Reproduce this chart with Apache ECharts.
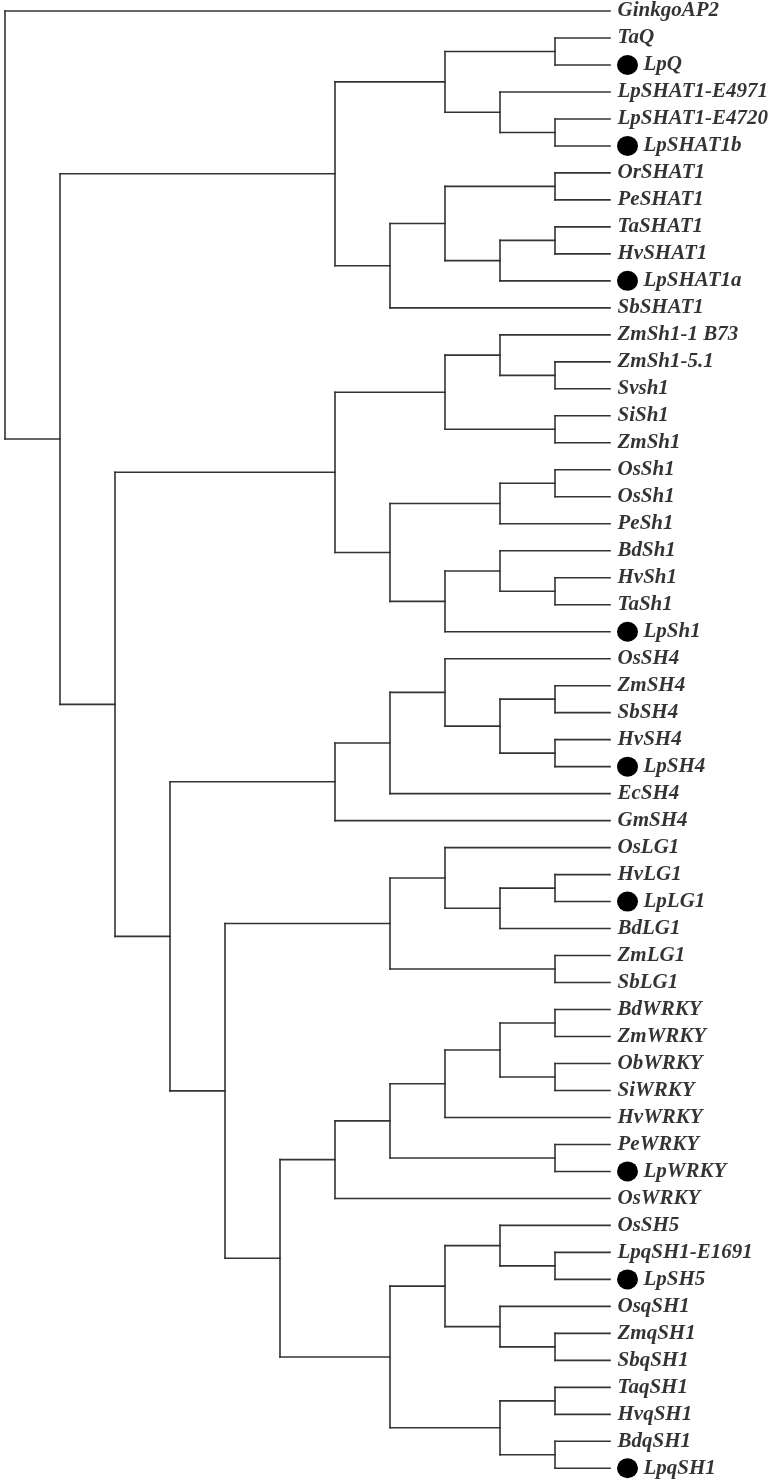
<!DOCTYPE html>
<html>
<head>
<meta charset="utf-8">
<script src="https://cdn.jsdelivr.net/npm/echarts@6/dist/echarts.min.js"></script>
<style>
html,body{margin:0;padding:0;background:#fff;}
#chart{width:776px;height:1480px;}
</style>
</head>
<body>
<div id="chart"></div>
<script>
// Leaf labels, top to bottom (their index is their row)
const leafNames = [
  'GinkgoAP2','TaQ','LpQ','LpSHAT1-E4971','LpSHAT1-E4720','LpSHAT1b',
  'OrSHAT1','PeSHAT1','TaSHAT1','HvSHAT1','LpSHAT1a','SbSHAT1',
  'ZmSh1-1 B73','ZmSh1-5.1','Svsh1','SiSh1','ZmSh1','OsSh1','OsSh1','PeSh1',
  'BdSh1','HvSh1','TaSh1','LpSh1',
  'OsSH4','ZmSH4','SbSH4','HvSH4','LpSH4','EcSH4','GmSH4',
  'OsLG1','HvLG1','LpLG1','BdLG1','ZmLG1','SbLG1',
  'BdWRKY','ZmWRKY','ObWRKY','SiWRKY','HvWRKY','PeWRKY','LpWRKY','OsWRKY',
  'OsSH5','LpqSH1-E1691','LpSH5','OsqSH1','ZmqSH1','SbqSH1',
  'TaqSH1','HvqSH1','BdqSH1','LpqSH1'
];
// Leaves marked with a black dot (row indices)
const markedLeaves = [2, 5, 10, 23, 28, 33, 43, 47, 54];

// Tree topology (Newick, leaves given by row index)
const cladeSHAT1 = '(((1,2),(3,(4,5))),(((6,7),((8,9),10)),11))';
const cladeSh1   = '(((12,(13,14)),(15,16)),(((17,18),19),((20,(21,22)),23)))';
const cladeSH4   = '(((24,((25,26),(27,28))),29),30)';
const cladeLG1   = '((31,((32,33),34)),(35,36))';
const cladeWRKY  = '(((((37,38),(39,40)),41),(42,43)),44)';
const cladeQSH1  = '(((45,(46,47)),(48,(49,50))),((51,52),(53,54)))';
const topology = '(0,(' + cladeSHAT1 + ',(' + cladeSh1 + ',(' + cladeSH4 + ',(' + cladeLG1 + ',(' + cladeWRKY + ',' + cladeQSH1 + '))))))';

function parseNewick(s) {
  s = s.replace(/\s+/g, '');
  let i = 0;
  function node() {
    if (s[i] === '(') {
      i++;
      const ch = [node()];
      while (s[i] === ',') { i++; ch.push(node()); }
      i++; // ')'
      return { children: ch };
    }
    const j = i;
    while (i < s.length && /[0-9]/.test(s[i])) i++;
    return { leaf: +s.slice(j, i) };
  }
  return node();
}
const root = parseNewick(topology);
function height(n) {
  n.h = n.children ? 1 + Math.max(...n.children.map(height)) : 0;
  return n.h;
}
const H = height(root);
function place(n) {
  n.x = H - n.h;
  if (n.children) {
    n.children.forEach(place);
    n.y = (n.children[0].y + n.children[n.children.length - 1].y) / 2;
  } else {
    n.y = n.leaf;
  }
}
place(root);
const segments = [];
function collect(n) {
  if (!n.children) return;
  const f = n.children[0], l = n.children[n.children.length - 1];
  segments.push([n.x, f.y, n.x, l.y]);
  n.children.forEach(c => { segments.push([n.x, c.y, c.x, c.y]); collect(c); });
}
collect(root);

const chart = echarts.init(document.getElementById('chart'), null, { renderer: 'canvas' });
const labelFont = {
  color: '#000', fontFamily: 'Liberation Serif', fontStyle: 'italic',
  fontWeight: 'bold', fontSize: 21
};
chart.setOption({
  animation: false,
  backgroundColor: '#fff',
  grid: { left: 5, right: 166, top: 11, bottom: 11.7, containLabel: false },
  xAxis: { type: 'value', min: 0, max: H, show: false },
  yAxis: { type: 'value', min: 0, max: leafNames.length - 1, inverse: true, show: false },
  series: [
    {
      type: 'custom',
      data: segments,
      encode: { x: [0, 2], y: [1, 3] },
      silent: true,
      renderItem: function (params, api) {
        const p1 = api.coord([api.value(0), api.value(1)]);
        const p2 = api.coord([api.value(2), api.value(3)]);
        return {
          type: 'line',
          shape: { x1: p1[0], y1: p1[1], x2: p2[0], y2: p2[1] },
          style: { stroke: '#333333', lineWidth: 1.6, lineCap: 'square' }
        };
      }
    },
    {
      type: 'scatter',
      symbolSize: 1,
      itemStyle: { color: 'rgba(0,0,0,0)' },
      silent: true,
      data: leafNames.map((n, i) => ({
        value: [H, i], name: n,
        label: { distance: markedLeaves.includes(i) ? 33 : 7 }
      })),
      label: Object.assign({ show: true, position: 'right', formatter: '{b}' }, labelFont)
    },
    {
      type: 'scatter',
      symbol: 'circle',
      symbolSize: [21, 20],
      symbolOffset: [17.5, 0],
      itemStyle: { color: '#000', opacity: 1 },
      silent: true,
      data: markedLeaves.map(i => [H, i])
    }
  ]
});
</script>
</body>
</html>
